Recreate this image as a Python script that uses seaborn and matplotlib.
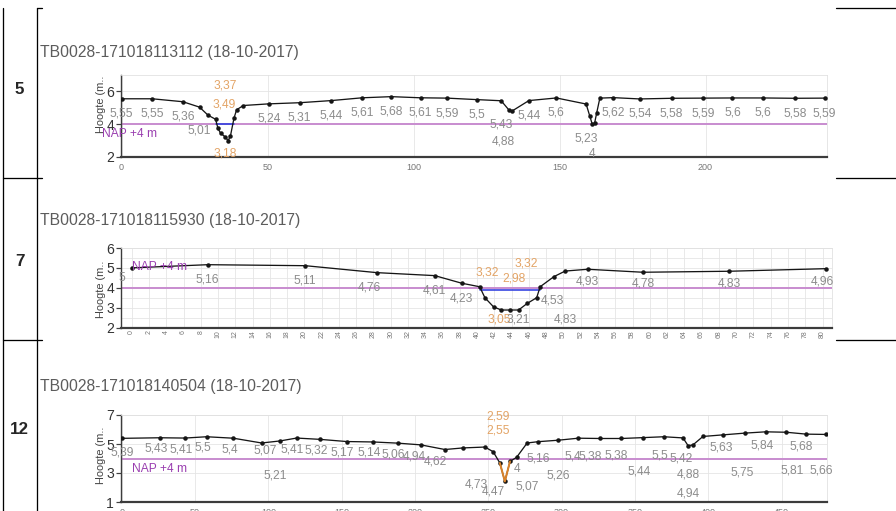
import pandas as pd
import seaborn as sns
import matplotlib.pyplot as plt

sns.set_style("white")
plt.rcParams['font.family'] = ['Liberation Sans Narrow', 'Liberation Sans', 'DejaVu Sans']

# ---------- profile 5 : TB0028-171018113112 ----------
dist_5 = [0, 10.5, 21, 26.7, 29.6, 32.2, 33, 33.9, 35.4, 36.5, 37.3, 38.5, 39.4, 41.7, 50.4,
          61, 71.8, 82.4, 92.4, 102.4, 111.5, 121.6, 130, 132.6, 133.8, 139.5, 148.9, 159.1,
          160.4, 161.2, 162, 162.7, 163.8, 168.4, 177.5, 188.4, 199.1, 209.2, 219.8, 230.6, 240.8]
height_5 = [5.55, 5.55, 5.37, 5.04, 4.55, 4.3, 3.75, 3.45, 3.24, 3.0, 3.3, 4.37, 4.88, 5.14, 5.24,
            5.31, 5.44, 5.61, 5.68, 5.61, 5.59, 5.5, 5.43, 4.88, 4.81, 5.44, 5.6, 5.23,
            4.47, 4.0, 4.06, 4.67, 5.59, 5.62, 5.54, 5.58, 5.59, 5.6, 5.6, 5.58, 5.59]
labels_5 = ["5,55", "5,55", "5,36", "5,01", "", "", "", "3,49", "3,37", "3,18", "", "", "", "", "5,24",
            "5,31", "5,44", "5,61", "5,68", "5,61", "5,59", "5,5", "5,43", "4,88", "", "5,44", "5,6", "5,23",
            "", "4", "", "", "", "5,62", "5,54", "5,58", "5,59", "5,6", "5,6", "5,58", "5,59"]
orange_5 = [7, 8, 9]
water_x_5 = [32.2, 38.5]
water_y_5 = [4.02, 4.02]

# ---------- profile 7 : TB0028-171018115930 ----------
dist_7 = [0, 8.8, 20.1, 28.4, 35.1, 38.2, 40.3, 40.9, 41.9, 42.8, 43.8, 44.8, 45.8, 46.9, 47.3,
          48.9, 50.2, 52.8, 59.2, 69.2, 80.4]
height_7 = [5.0, 5.16, 5.11, 4.76, 4.61, 4.23, 4.05, 3.5, 3.04, 2.88, 2.88, 2.88, 3.21, 3.5, 4.05,
            4.56, 4.84, 4.93, 4.78, 4.83, 4.96]
labels_7 = ["5", "5,16", "5,11", "4,76", "4,61", "4,23", "3,32", "", "3,05", "2,98", "", "3,21", "", "", "3,32",
            "4,53", "4,83", "4,93", "4,78", "4,83", "4,96"]
orange_7 = [6, 8, 9, 14]
water_x_7 = [40.3, 47.3]
water_y_7 = [3.88, 3.88]

# ---------- profile 12 : TB0028-171018140504 ----------
dist_12 = [0, 26.1, 43.1, 57.9, 76.1, 95.4, 107.9, 119.3, 135.2, 153.4, 171.5, 188.1, 204, 220.4,
           232.9, 247.7, 253.3, 257.9, 261.3, 264.8, 269.3, 276.5, 284, 297.6, 311.3, 326, 340.8,
           355.6, 369.7, 382.8, 386.3, 389.6, 396.4, 410.1, 424.9, 439.2, 453.3, 466.9, 480.1]
height_12 = [5.39, 5.43, 5.41, 5.5, 5.4, 5.07, 5.21, 5.41, 5.32, 5.17, 5.14, 5.06, 4.94, 4.62,
             4.73, 4.79, 4.47, 3.69, 2.42, 3.8, 4.08, 5.07, 5.16, 5.26, 5.4, 5.38, 5.38,
             5.44, 5.5, 5.42, 4.88, 4.94, 5.52, 5.63, 5.75, 5.84, 5.81, 5.68, 5.66]
labels_12 = ["5,39", "5,43", "5,41", "5,5", "5,4", "5,07", "5,21", "5,41", "5,32", "5,17", "5,14", "5,06", "4,94", "4,62",
             "4,73", "", "4,47", "2,59", "", "2,55", "4", "5,07", "5,16", "5,26", "5,4", "5,38", "5,38",
             "5,44", "5,5", "5,42", "4,88", "4,94", "", "5,63", "5,75", "5,84", "5,81", "5,68", "5,66"]
orange_12 = [17, 19]

# label placement (offset in px from the point), default per panel
offs_5 = {3: (0, -23), 7: (4, 29), 8: (0, 51), 9: (-3, -13), 22: (0, -24), 23: (-5, -32),
          27: (0, -34), 29: (0, -30)}
offs_7 = {0: (-10, -10), 3: (-8, -15), 6: (8, 14), 8: (6, -13), 9: (13, 32), 11: (0, -9),
          14: (-14, 23), 15: (-2, -24), 16: (0, -48), 17: (0, -12), 18: (0, -11), 19: (0, -12), 20: (-4, -13)}
offs_12 = {0: (0, -14), 5: (4, -8), 6: (-5, -35), 12: (-7, -12), 13: (-9, -12), 14: (13, -37),
           16: (0, -40), 17: (-2, 46), 19: (-12, 31), 20: (0, -12), 21: (0, -44), 22: (0, -17),
           23: (0, -35), 24: (-5, -18), 25: (-10, -18), 26: (-5, -17), 27: (-4, -34), 28: (-4, -19),
           29: (-2, -21), 30: (0, -29), 31: (-5, -49), 33: (-2, -13), 34: (-3, -39), 35: (-4, -14),
           36: (6, -38), 37: (-5, -12), 38: (-4, -36)}

W, H, DPI = 896, 511, 72
GRAY_TXT = '#8c8c8c'
ORANGE = '#e3a466'
NAP_LINE = '#c98fd0'
NAP_TXT = '#9a3fb0'

fig = plt.figure(figsize=(W / DPI, H / DPI), dpi=DPI)

# table frame (pixel coords)
bg = fig.add_axes([0, 0, 1, 1])
bg.set_xlim(0, W)
bg.set_ylim(H, 0)
bg.axis('off')
for x in (2.5, 37):
    bg.plot([x, x], [8, H], color='black', lw=1.3)
bg.plot([37, 41.5], [8, 8], color='black', lw=1.3)
for y in (178, 340):
    bg.plot([2.5, 41.5], [y, y], color='black', lw=1.3)
for y in (8, 178, 340):
    bg.plot([836, W], [y, y], color='black', lw=1.3)
for txt, y in (("5", 90), ("7", 261), ("12", 429)):
    bg.text(19.5, y, txt, ha='center', va='center', fontsize=17, fontweight='bold',
            family=['Liberation Sans', 'DejaVu Sans'])

titles = ["TB0028-171018113112 (18-10-2017)", "TB0028-171018115930 (18-10-2017)",
          "TB0028-171018140504 (18-10-2017)"]
for t, y in zip(titles, (52, 220, 387)):
    bg.text(40, y, t, ha='left', va='center', fontsize=15.8, color='#5c5c5c')


def panel(px_box, xs, ys, labels, offs, default_off, orange_idx, xlim, ylim, yticks, xticks,
          ylab_y, nap_off, water=None, orange_seg=None, xrot=0, xfs=9):
    l, r, t, b = px_box
    ax = fig.add_axes([l / W, 1 - b / H, (r - l) / W, (b - t) / H])
    df = pd.DataFrame({'afstand': xs, 'hoogte': ys})
    ax.axhline(4, color=NAP_LINE, lw=2, zorder=1)
    if water is not None:
        ax.plot(water[0], water[1], color='#2f3fe0', lw=1.6, zorder=2)
    sns.lineplot(data=df, x='afstand', y='hoogte', sort=False, estimator=None, color='#151515',
                 lw=1.3, marker='o', markersize=4.5, markeredgewidth=0, ax=ax, zorder=3)
    if orange_seg is not None:
        ax.plot(xs[orange_seg[0]:orange_seg[1]], ys[orange_seg[0]:orange_seg[1]],
                color='#d9822b', lw=2, zorder=4)
    for i, (x, y, s) in enumerate(zip(xs, ys, labels)):
        if not s:
            continue
        dx, dy = offs.get(i, default_off)
        ax.annotate(s, (x, y), xytext=(dx, dy), textcoords='offset points', ha='center',
                    va='center', fontsize=12, color=ORANGE if i in orange_idx else GRAY_TXT,
                    zorder=5)
    ax.annotate("NAP +4 m", (xlim[0], 4), xytext=nap_off, textcoords='offset points',
                ha='left', va='center', fontsize=12, color=NAP_TXT, zorder=5)
    ax.set_xlim(*xlim)
    ax.set_ylim(*ylim)
    ax.set_yticks(yticks)
    ax.set_xticks(xticks)
    ax.set_xticklabels([str(v) for v in xticks], rotation=xrot)
    ax.tick_params(axis='y', length=5, width=1.2, color='#404040', labelsize=14,
                   labelcolor='#333333', pad=2, left=True)
    ax.tick_params(axis='x', length=0, labelsize=xfs, labelcolor='#777777', pad=6)
    ax.grid(True, color='#e4e4e4', lw=0.8)
    ax.set_axisbelow(True)
    for side in ('top', 'right'):
        ax.spines[side].set_color('#e0e0e0')
        ax.spines[side].set_linewidth(0.8)
    ax.spines['bottom'].set_color('#3c3c3c')
    ax.spines['bottom'].set_linewidth(2.2)
    ax.spines['left'].set_color('#3c3c3c')
    ax.spines['left'].set_linewidth(1.4)
    ax.set_xlabel('')
    ax.set_ylabel("Hoogte (m..", fontsize=11, color='#444444')
    ax.yaxis.set_label_coords(-15 / (r - l), (b - ylab_y) / (b - t))
    return ax


panel((121, 827, 75, 157), dist_5, height_5, labels_5, offs_5, (0, -15), orange_5,
      (-0.2, 241.6), (2, 7), [2, 4, 6], [0, 50, 100, 150, 200], 104, (-19, -10),
      water=(water_x_5, water_y_5))

ax7 = panel((121, 832, 248, 327.5), dist_7, height_7, labels_7, offs_7, (0, -15), orange_7,
            (-1.24, 81.1), (2, 6), [2, 3, 4, 5, 6], list(range(0, 81, 2)), 289, (11, 21),
            water=(water_x_7, water_y_7), xrot=90, xfs=7)
ax7.set_yticks([2.5, 3.5, 4.5, 5.5], minor=True)
ax7.tick_params(axis='y', which='minor', length=0)
ax7.grid(True, which='minor', axis='y', color='#e4e4e4', lw=0.8)
ax7.tick_params(axis='x', pad=3)

panel((121, 827, 415, 502), dist_12, height_12, labels_12, offs_12, (-4, -11), orange_12,
      (-0.5, 481), (1, 7), [1, 3, 5, 7], list(range(0, 451, 50)), 455, (11, -11),
      orange_seg=(17, 20))

fig.savefig('out.png', dpi=DPI)
